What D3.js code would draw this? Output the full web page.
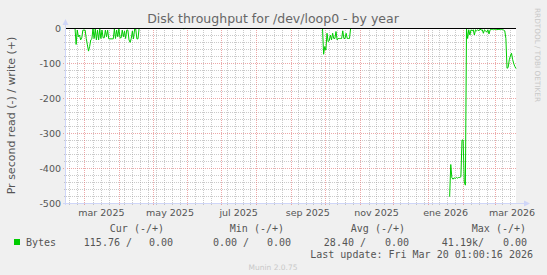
<!DOCTYPE html>
<html><head><meta charset="utf-8">
<script src="https://cdn.jsdelivr.net/npm/d3@7"></script>
<style>html,body{margin:0;padding:0;background:#f0f0f0;} svg{display:block}</style>
</head><body>
<svg id="chart" width="547" height="275"></svg>
<script>
const titleText = "Disk throughput for /dev/loop0 - by year";
const yAxisLabel = "Pr second read (-) / write (+)";
const timeStart = "2025-02-13T01:00:00Z";
const timeEnd = "2026-03-20T01:00:00Z";
const yTicks = [0, -100, -200, -300, -400, -500];
const xTickMonths = ["2025-03-01","2025-05-01","2025-07-01","2025-09-01","2025-11-01","2026-01-01","2026-03-01"];
const xTickLabels = ["mar 2025","may 2025","jul 2025","sep 2025","nov 2025","ene 2026","mar 2026"];

// daily read values (bytes/s, negative = read), one value per day from each start date
const segmentStarts = ["2025-02-21","2025-05-28","2025-09-29","2026-01-20"];
const segment1 = [0,-47,-6,-25,-20,-34,-28,-6,-6,-6,-30,-48,-66,-53,-34,-31,-1,-30,-3,-34,-6,-34,-3,-30,-6,-28,-28,-6,-25,-6,-31,-31,-31,-31,-31,-3,-30,-6,-25,-3,-28,-28,-6,-25,-9,-30,-6,-6,-34,-41,-30,-9,-31,-3,-3,-31,-31,0];
const segment2 = [-2,-2,-1];
const segment3 = [0,-75,-53,-63,-15,-39,-36,-20,-34,-15,-30,-30,-10,-34,-30,-30,-30,-30,-8,-30,-30,-15,-30,-30,-30,0];
const segment4 = [-482,-390,-428,-432,-428,-430,-427,-429,-427,-427,-425,-320,-320,-440,-449,-2,-30,-5,-20,-5,-8,-5,-20,-5,-8,-5,-8,-3,-6,-5,-15,-5,-8,-12,-5,-17,-5,-4,-4,-5,-4,-4,-5,-4,-4,-5,-4,-4,-6,-8,-30,-115,-113,-91,-80,-72,-90,-102,-110,-116];

const seriesName = "Bytes";
const legendHeaders = ["Cur (-/+)","Min (-/+)","Avg (-/+)","Max (-/+)"];
const legendRead = ["115.76 /","0.00 /","28.40 /","41.19k/"];
const legendWrite = ["0.00","0.00","0.00","0.00"];
const lastUpdate = "Last update: Fri Mar 20 01:00:16 2026";
const muninVersion = "Munin 2.0.75";
const watermark = "RRDTOOL / TOBI OETIKER";

const svg = d3.select("#chart");
const L = 66, R = 516, T = 28, B = 203;
const x = d3.scaleUtc().domain([new Date(timeStart), new Date(timeEnd)]).range([L, R]);
const y = d3.scaleLinear().domain([-500, 0]).range([B, T]);
const sans = "'DejaVu Sans', sans-serif", mono = "'DejaVu Sans Mono', monospace";
const fontCol = "#555";

svg.append("rect").attr("width",547).attr("height",275).attr("fill","#f0f0f0");
svg.append("rect").attr("x",L).attr("y",T).attr("width",R-L).attr("height",B-T).attr("fill","#fff");

const gGrid = svg.append("g").attr("shape-rendering","crispEdges");
const minorCol = "rgba(150,150,150,0.5)", majorCol = "rgba(225,110,110,0.6)";
const monthX = d3.utcMonth.range(x.domain()[0], x.domain()[1]).map(d => Math.round(x(d))+0.5);
// minor horizontal
d3.range(-500, 1, 20).filter(v => v % 100 !== 0).forEach(v => {
  gGrid.append("line").attr("x1",L-2).attr("x2",R).attr("y1",Math.round(y(v))+0.5).attr("y2",Math.round(y(v))+0.5)
    .attr("stroke",minorCol).attr("stroke-dasharray","1,1");
});
// minor vertical (weeks)
d3.utcSunday.range(x.domain()[0], x.domain()[1]).forEach(d => {
  const xx = Math.round(x(d))+0.5;
  if (monthX.some(m => Math.abs(m - xx) < 3)) return;
  gGrid.append("line").attr("x1",xx).attr("x2",xx).attr("y1",T).attr("y2",B+2)
    .attr("stroke",minorCol).attr("stroke-dasharray","1,1");
});
// major horizontal
yTicks.filter(v => v !== 0).forEach(v => {
  gGrid.append("line").attr("x1",L-3).attr("x2",R).attr("y1",Math.round(y(v))+0.5).attr("y2",Math.round(y(v))+0.5)
    .attr("stroke",majorCol).attr("stroke-dasharray","1,1");
});
// major vertical (months)
monthX.forEach(xx => {
  gGrid.append("line").attr("x1",xx).attr("x2",xx).attr("y1",T).attr("y2",B+3)
    .attr("stroke",majorCol).attr("stroke-dasharray","1,1");
});

// axes lines
const axisCol = "#cfd6f8";
svg.append("line").attr("x1",L-0.5).attr("x2",L-0.5).attr("y1",B+2).attr("y2",T-4).attr("stroke",axisCol);
svg.append("line").attr("x1",L-3).attr("x2",R+8).attr("y1",B+0.5).attr("y2",B+0.5).attr("stroke",axisCol);
svg.append("path").attr("d",`M${L-3.5},${T-3} L${L-0.5},${T-9} L${L+2.5},${T-3} Z`).attr("fill",axisCol);
svg.append("path").attr("d",`M${R+8},${B-2.5} L${R+14},${B+0.5} L${R+8},${B+3.5} Z`).attr("fill",axisCol);

// data
const day = 86400000;
const points = [];
[segment1, segment2, segment3, segment4].forEach((seg, i) => {
  const s = new Date(segmentStarts[i] + "T01:00:00Z").getTime();
  seg.forEach((v, k) => points.push({t: new Date(s + k*day), v}));
  points.push({t: new Date(s + seg.length*day - day/2), v: null});
});
const line = d3.line().defined(d => d.v !== null).x(d => x(d.t)).y(d => y(d.v));
svg.append("path").datum(points).attr("d", line).attr("fill","none").attr("stroke","#00cc00").attr("stroke-width",1);

// zero line
svg.append("line").attr("x1",L).attr("x2",R).attr("y1",y(0)+0.5).attr("y2",y(0)+0.5).attr("stroke","#000").attr("shape-rendering","crispEdges");

// y tick labels
yTicks.forEach(v => {
  svg.append("text").attr("x",61).attr("y",y(v)+3.5).attr("text-anchor","end")
    .attr("font-family",sans).attr("font-size",9.5).attr("fill",fontCol).text(v);
});
// x tick labels (centered in month)
xTickMonths.forEach((m, i) => {
  const d0 = new Date(m + "T00:00:00Z");
  const d1 = d3.utcMonth.offset(d0, 1);
  const cx = (x(d0) + x(d1)) / 2;
  svg.append("text").attr("x",cx).attr("y",216).attr("text-anchor","middle")
    .attr("font-family",sans).attr("font-size",9.5).attr("fill",fontCol).text(xTickLabels[i]);
});

// title
svg.append("text").attr("x",273).attr("y",23).attr("text-anchor","middle")
  .attr("font-family",sans).attr("font-size",12.5).attr("fill","#666").text(titleText);
// y axis label
svg.append("text").attr("transform",`translate(15,${(T+B)/2}) rotate(-90)`).attr("text-anchor","middle")
  .attr("font-family",sans).attr("font-size",11).attr("fill",fontCol).text(yAxisLabel);
// watermark
svg.append("text").attr("transform",`translate(535,8) rotate(90)`).attr("text-anchor","start")
  .attr("font-family",sans).attr("font-size",7.3).attr("fill","#c8c8c8").text(watermark);

// legend
const hdrEnd = [164, 284, 405, 526];
const readEnd = [132, 249, 366, 484];
const writeEnd = [173, 291, 409, 527];
legendHeaders.forEach((h, i) => {
  svg.append("text").attr("x",hdrEnd[i]).attr("y",231.5).attr("text-anchor","end")
    .attr("font-family",mono).attr("font-size",10).attr("fill",fontCol).attr("xml:space","preserve").text(h);
  svg.append("text").attr("x",readEnd[i]).attr("y",245.5).attr("text-anchor","end")
    .attr("font-family",mono).attr("font-size",10).attr("fill",fontCol).attr("xml:space","preserve").text(legendRead[i]);
  svg.append("text").attr("x",writeEnd[i]).attr("y",245.5).attr("text-anchor","end")
    .attr("font-family",mono).attr("font-size",10).attr("fill",fontCol).attr("xml:space","preserve").text(legendWrite[i]);
});
svg.append("rect").attr("x",14).attr("y",239).attr("width",6).attr("height",6).attr("fill","#00cc00");
svg.append("text").attr("x",26).attr("y",245.5).attr("font-family",mono).attr("font-size",10).attr("fill",fontCol).text(seriesName);
svg.append("text").attr("x",533).attr("y",258).attr("text-anchor","end")
  .attr("font-family",mono).attr("font-size",10).attr("fill",fontCol).text(lastUpdate);
svg.append("text").attr("x",273).attr("y",270).attr("text-anchor","middle")
  .attr("font-family",sans).attr("font-size",7.5).attr("fill","#c8c8c8").text(muninVersion);
</script>
</body></html>
